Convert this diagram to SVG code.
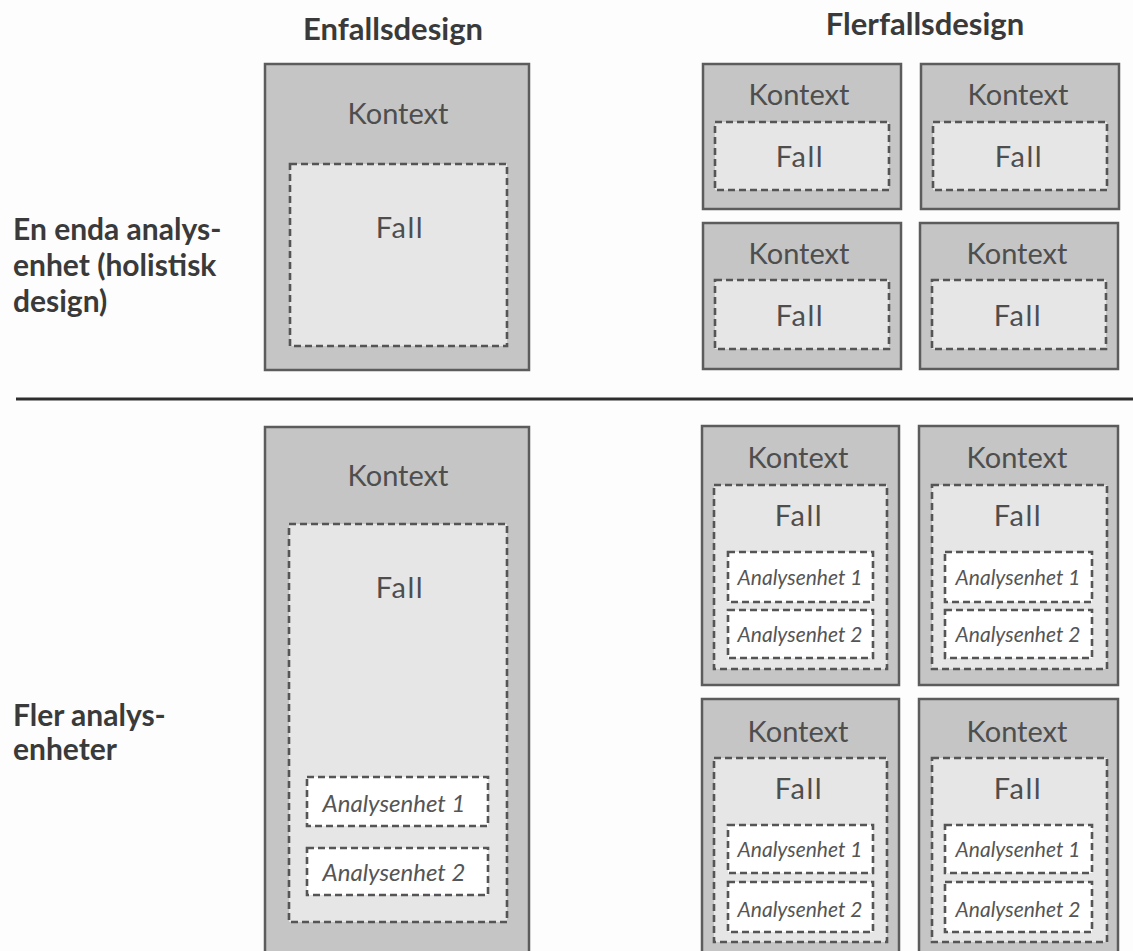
<svg xmlns="http://www.w3.org/2000/svg" width="1133" height="951" viewBox="0 0 1133 951">
  <style>
    .ctx { fill: #c5c5c5; stroke: #5c5c5c; stroke-width: 2.5; }
    .case { fill: #e6e6e6; stroke: #555; stroke-width: 2.6; stroke-dasharray: 7 4; }
    .unit { fill: #ffffff; stroke: #555; stroke-width: 2.6; stroke-dasharray: 7 4; }
    .lbl { font-family: Lato, "Open Sans", sans-serif; font-size: 29px; fill: #4e4e4e; text-anchor: middle; }
    .fall { letter-spacing: 1.5px; }
    .ulbl { font-family: Lato, "Open Sans", sans-serif; font-style: italic; font-size: 21px; fill: #555; text-anchor: middle; }
    .ulbl-lg { font-size: 24px; }
    .head { font-family: Lato, "Open Sans", sans-serif; font-weight: bold; font-size: 31px; fill: #3a3a3a; text-anchor: middle; }
    .row { font-family: Lato, "Open Sans", sans-serif; font-weight: bold; font-size: 30px; fill: #3a3a3a; }
  </style>
  <rect width="1133" height="951" fill="#fdfdfd"/>

  <!-- column headings -->
  <g id="headings">
    <text class="head" x="393" y="40">Enfallsdesign</text>
    <text class="head" x="925" y="35">Flerfallsdesign</text>
  </g>

  <!-- row headings -->
  <g id="row-holistic">
    <text class="row" x="13" y="240">En enda analys-</text>
    <text class="row" x="13" y="276">enhet (holistisk</text>
    <text class="row" x="13" y="312">design)</text>
  </g>
  <g id="row-embedded">
    <text class="row" x="13" y="726">Fler analys-</text>
    <text class="row" x="13" y="760">enheter</text>
  </g>

  <!-- divider between the two rows -->
  <g id="connectors">
    <line x1="16" y1="399" x2="1133" y2="399" stroke="#2e2e2e" stroke-width="3"/>
  </g>

  <!-- single case, holistic -->
  <g id="single-holistic">
    <rect class="ctx" x="265" y="64" width="264" height="306"/>
    <text class="lbl" x="398" y="124">Kontext</text>
    <rect class="case" x="290" y="164" width="217" height="182"/>
    <text class="lbl fall" x="400" y="238">Fall</text>
  </g>

  <!-- multiple cases, holistic -->
  <g id="multi-holistic-1">
    <rect class="ctx" x="703" y="64" width="198" height="145"/>
    <text class="lbl" x="799" y="105">Kontext</text>
    <rect class="case" x="715" y="122" width="174" height="68"/>
    <text class="lbl fall" x="800" y="167">Fall</text>
  </g>
  <g id="multi-holistic-2">
    <rect class="ctx" x="921" y="64" width="198" height="145"/>
    <text class="lbl" x="1018" y="105">Kontext</text>
    <rect class="case" x="933" y="122" width="174" height="68"/>
    <text class="lbl fall" x="1019" y="167">Fall</text>
  </g>
  <g id="multi-holistic-3">
    <rect class="ctx" x="703" y="223" width="198" height="146"/>
    <text class="lbl" x="799" y="264">Kontext</text>
    <rect class="case" x="715" y="280" width="174" height="69"/>
    <text class="lbl fall" x="800" y="326">Fall</text>
  </g>
  <g id="multi-holistic-4">
    <rect class="ctx" x="920" y="223" width="198" height="146"/>
    <text class="lbl" x="1017" y="264">Kontext</text>
    <rect class="case" x="932" y="280" width="174" height="69"/>
    <text class="lbl fall" x="1018" y="326">Fall</text>
  </g>

  <!-- single case, embedded -->
  <g id="single-embedded">
    <rect class="ctx" x="265" y="427" width="264" height="540"/>
    <text class="lbl" x="398" y="486">Kontext</text>
    <rect class="case" x="289" y="524" width="218" height="398"/>
    <text class="lbl fall" x="400" y="598">Fall</text>
    <rect class="unit" x="307" y="777" width="181" height="49"/>
    <text class="ulbl ulbl-lg" x="394" y="812">Analysenhet 1</text>
    <rect class="unit" x="307" y="848" width="181" height="47"/>
    <text class="ulbl ulbl-lg" x="394" y="881">Analysenhet 2</text>
  </g>

  <!-- multiple cases, embedded -->
  <g id="multi-embedded-1">
    <rect class="ctx" x="702" y="426" width="197" height="259"/>
    <text class="lbl" x="798" y="468">Kontext</text>
    <rect class="case" x="714" y="485" width="173" height="184"/>
    <text class="lbl fall" x="799" y="526">Fall</text>
    <rect class="unit" x="728" y="552" width="145" height="50"/>
    <text class="ulbl" x="800" y="585">Analysenhet 1</text>
    <rect class="unit" x="728" y="610" width="145" height="48"/>
    <text class="ulbl" x="800" y="642">Analysenhet 2</text>
  </g>
  <g id="multi-embedded-2">
    <rect class="ctx" x="919" y="426" width="199" height="259"/>
    <text class="lbl" x="1017" y="468">Kontext</text>
    <rect class="case" x="932" y="485" width="175" height="184"/>
    <text class="lbl fall" x="1018" y="526">Fall</text>
    <rect class="unit" x="945" y="552" width="147" height="50"/>
    <text class="ulbl" x="1018" y="585">Analysenhet 1</text>
    <rect class="unit" x="945" y="610" width="147" height="48"/>
    <text class="ulbl" x="1018" y="642">Analysenhet 2</text>
  </g>
  <g id="multi-embedded-3">
    <rect class="ctx" x="702" y="699" width="197" height="270"/>
    <text class="lbl" x="798" y="742">Kontext</text>
    <rect class="case" x="714" y="758" width="173" height="184"/>
    <text class="lbl fall" x="799" y="799">Fall</text>
    <rect class="unit" x="728" y="825" width="145" height="48"/>
    <text class="ulbl" x="800" y="857">Analysenhet 1</text>
    <rect class="unit" x="728" y="882" width="145" height="50"/>
    <text class="ulbl" x="800" y="917">Analysenhet 2</text>
  </g>
  <g id="multi-embedded-4">
    <rect class="ctx" x="919" y="699" width="199" height="270"/>
    <text class="lbl" x="1017" y="742">Kontext</text>
    <rect class="case" x="932" y="758" width="175" height="184"/>
    <text class="lbl fall" x="1018" y="799">Fall</text>
    <rect class="unit" x="945" y="825" width="147" height="48"/>
    <text class="ulbl" x="1018" y="857">Analysenhet 1</text>
    <rect class="unit" x="945" y="882" width="147" height="50"/>
    <text class="ulbl" x="1018" y="917">Analysenhet 2</text>
  </g>
</svg>
